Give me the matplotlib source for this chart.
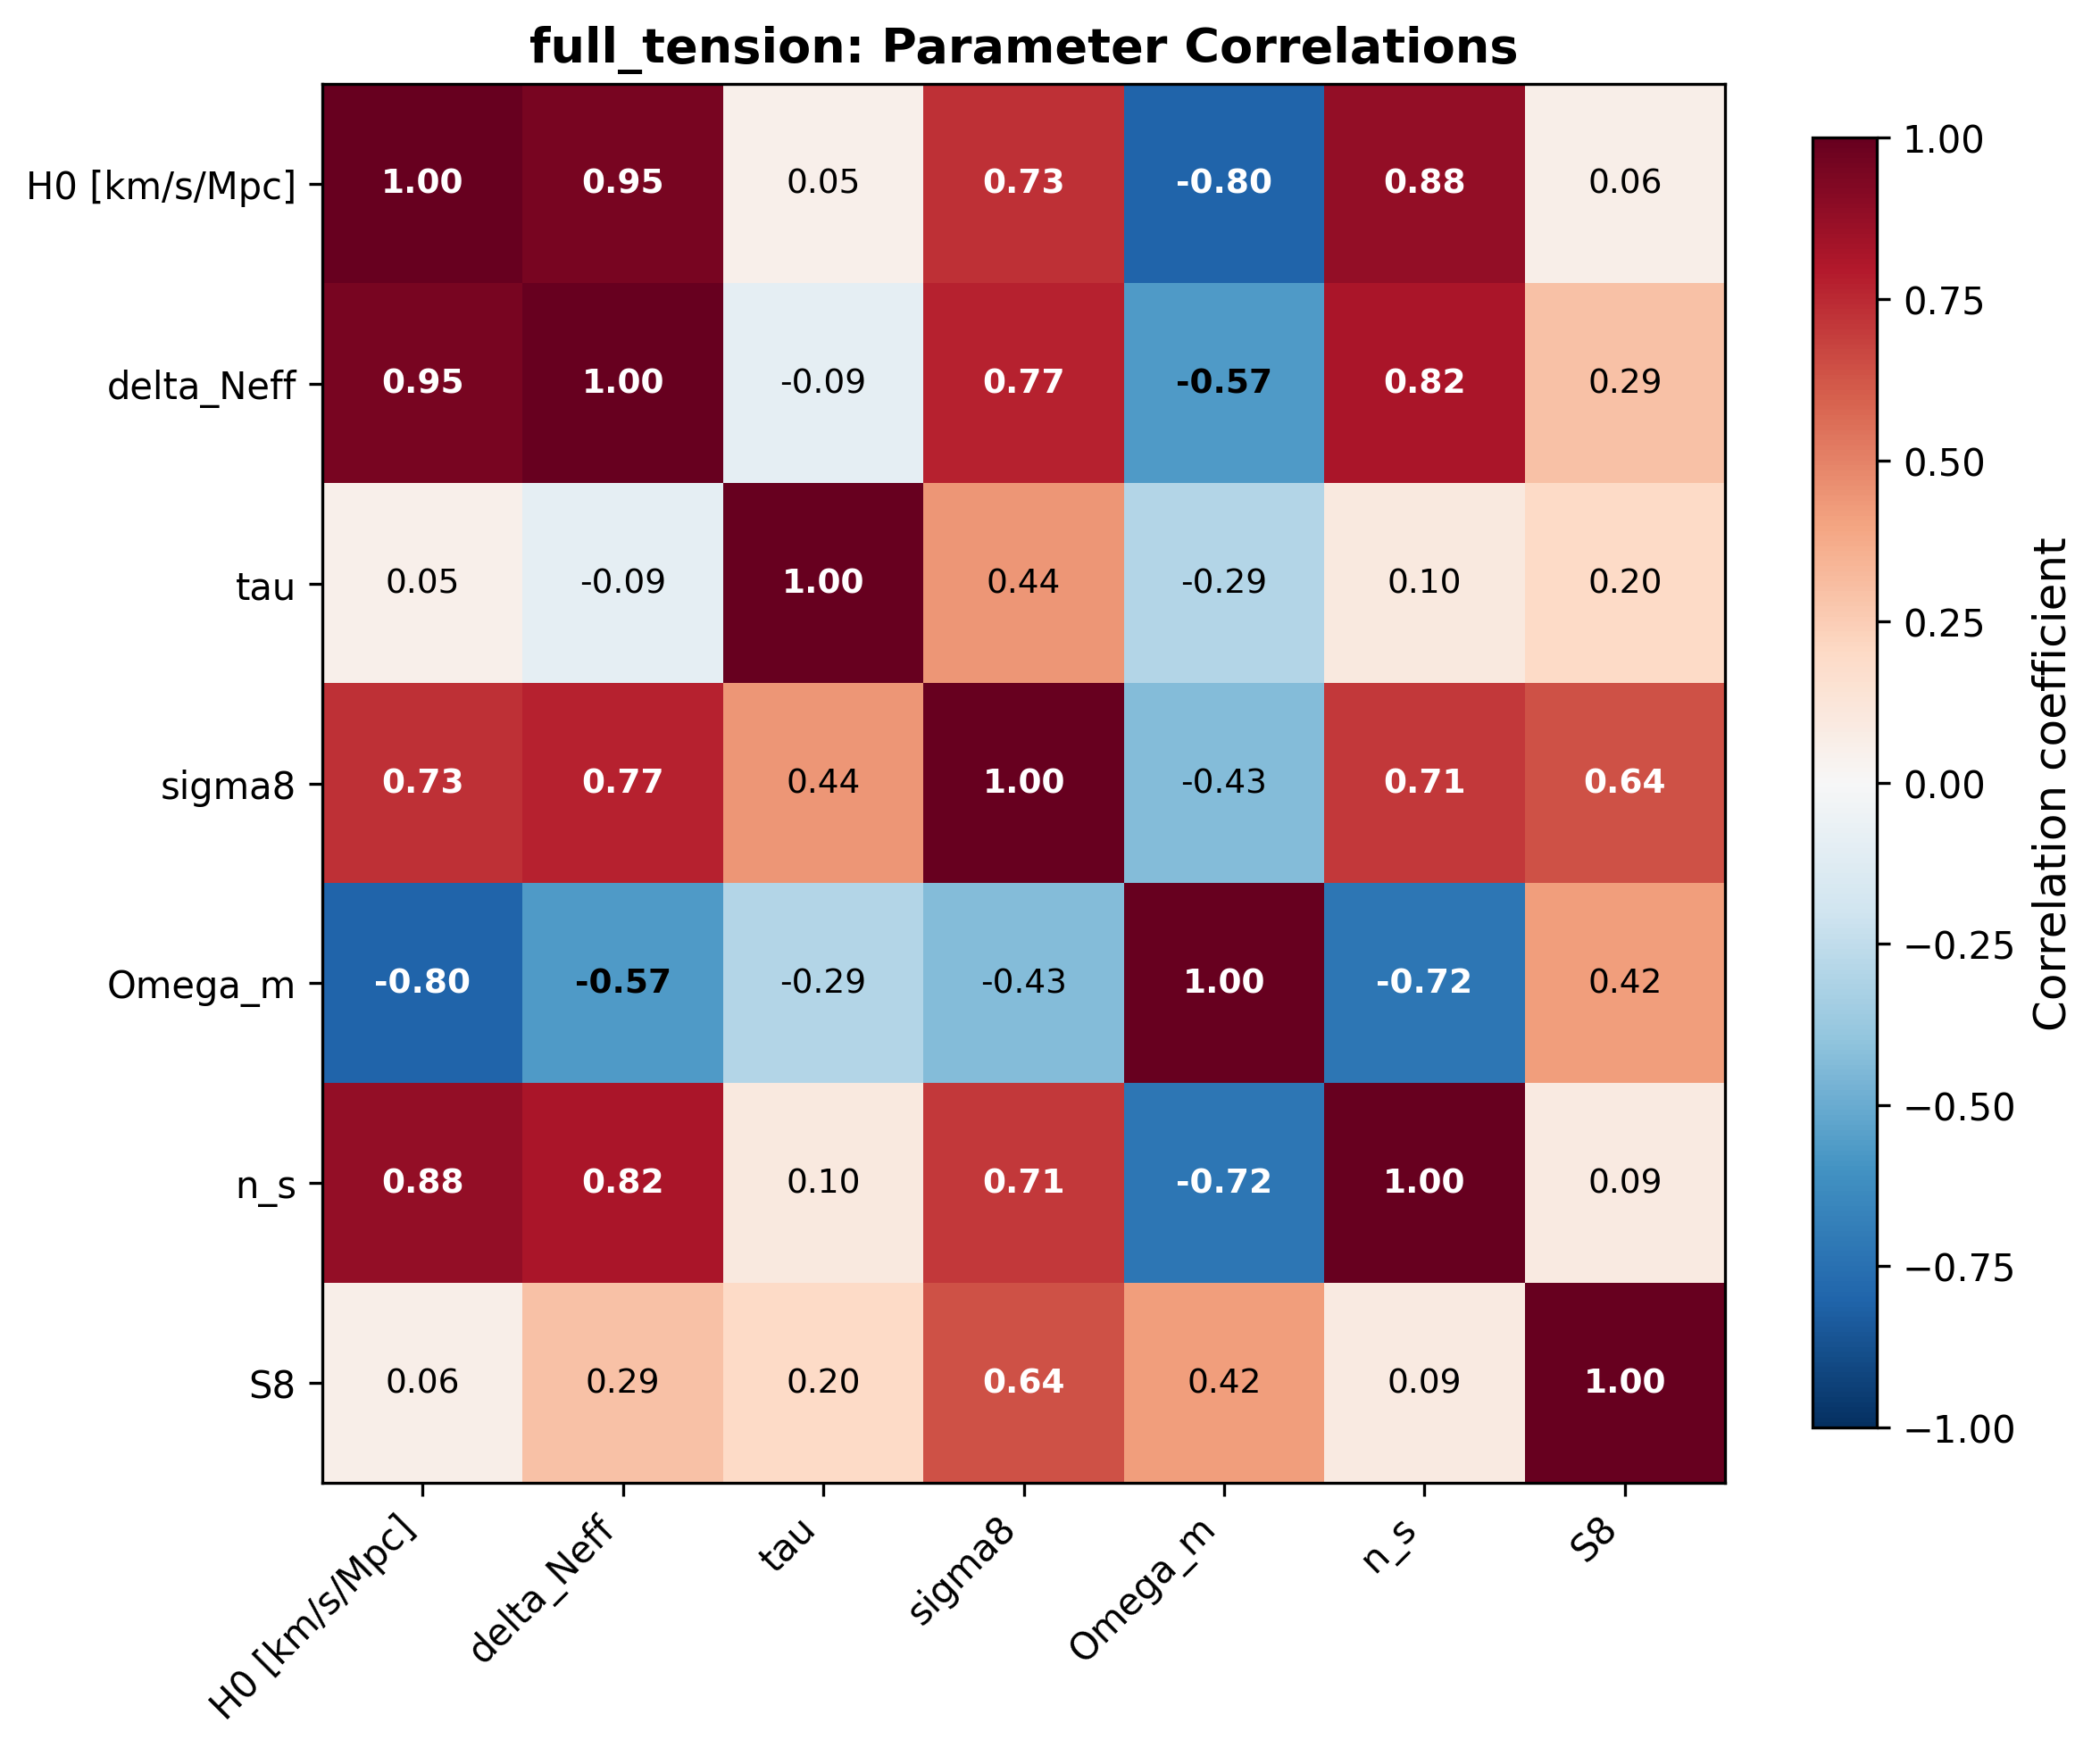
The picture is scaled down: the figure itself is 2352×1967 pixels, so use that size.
import numpy as np
import matplotlib
matplotlib.use("Agg")
import matplotlib.pyplot as plt

PARAMS = ["H0 [km/s/Mpc]", "delta_Neff", "tau", "sigma8", "Omega_m", "n_s", "S8"]

# correlation matrix, row by row
CORR = [
    [1.00, 0.95, 0.05, 0.73, -0.80, 0.88, 0.06],
    [0.95, 1.00, -0.09, 0.77, -0.57, 0.82, 0.29],
    [0.05, -0.09, 1.00, 0.44, -0.29, 0.10, 0.20],
    [0.73, 0.77, 0.44, 1.00, -0.43, 0.71, 0.64],
    [-0.80, -0.57, -0.29, -0.43, 1.00, -0.72, 0.42],
    [0.88, 0.82, 0.10, 0.71, -0.72, 1.00, 0.09],
    [0.06, 0.29, 0.20, 0.64, 0.42, 0.09, 1.00],
]

TITLE = "full_tension: Parameter Correlations"

def main():
    corr = np.array(CORR)
    n = len(PARAMS)

    fig = plt.figure(figsize=(7.84, 6.56), dpi=300)
    ax = fig.add_axes([0.1535, 0.1555, 0.668, 0.7962])
    cax = fig.add_axes([0.863, 0.187, 0.0306, 0.734])

    im = ax.imshow(corr, cmap="RdBu_r", vmin=-1, vmax=1, aspect="auto")

    for i in range(n):
        for j in range(n):
            v = corr[i, j]
            color = "white" if abs(v) > 0.6 else "black"
            weight = "bold" if abs(v) > 0.5 else "normal"
            ax.text(j, i, f"{v:.2f}", ha="center", va="center",
                    color=color, fontweight=weight, fontsize=9)

    ax.set_xticks(range(n))
    ax.set_yticks(range(n))
    ax.set_xticklabels(PARAMS, rotation=45, ha="right", fontsize=10)
    ax.set_yticklabels(PARAMS, fontsize=10)
    ax.set_title(TITLE, fontsize=13, fontweight="bold")

    cbar = fig.colorbar(im, cax=cax)
    cbar.set_label("Correlation coefficient", fontsize=12)
    cbar.ax.tick_params(labelsize=10)

    fig.savefig("out.png", dpi=300)

if __name__ == "__main__":
    main()
